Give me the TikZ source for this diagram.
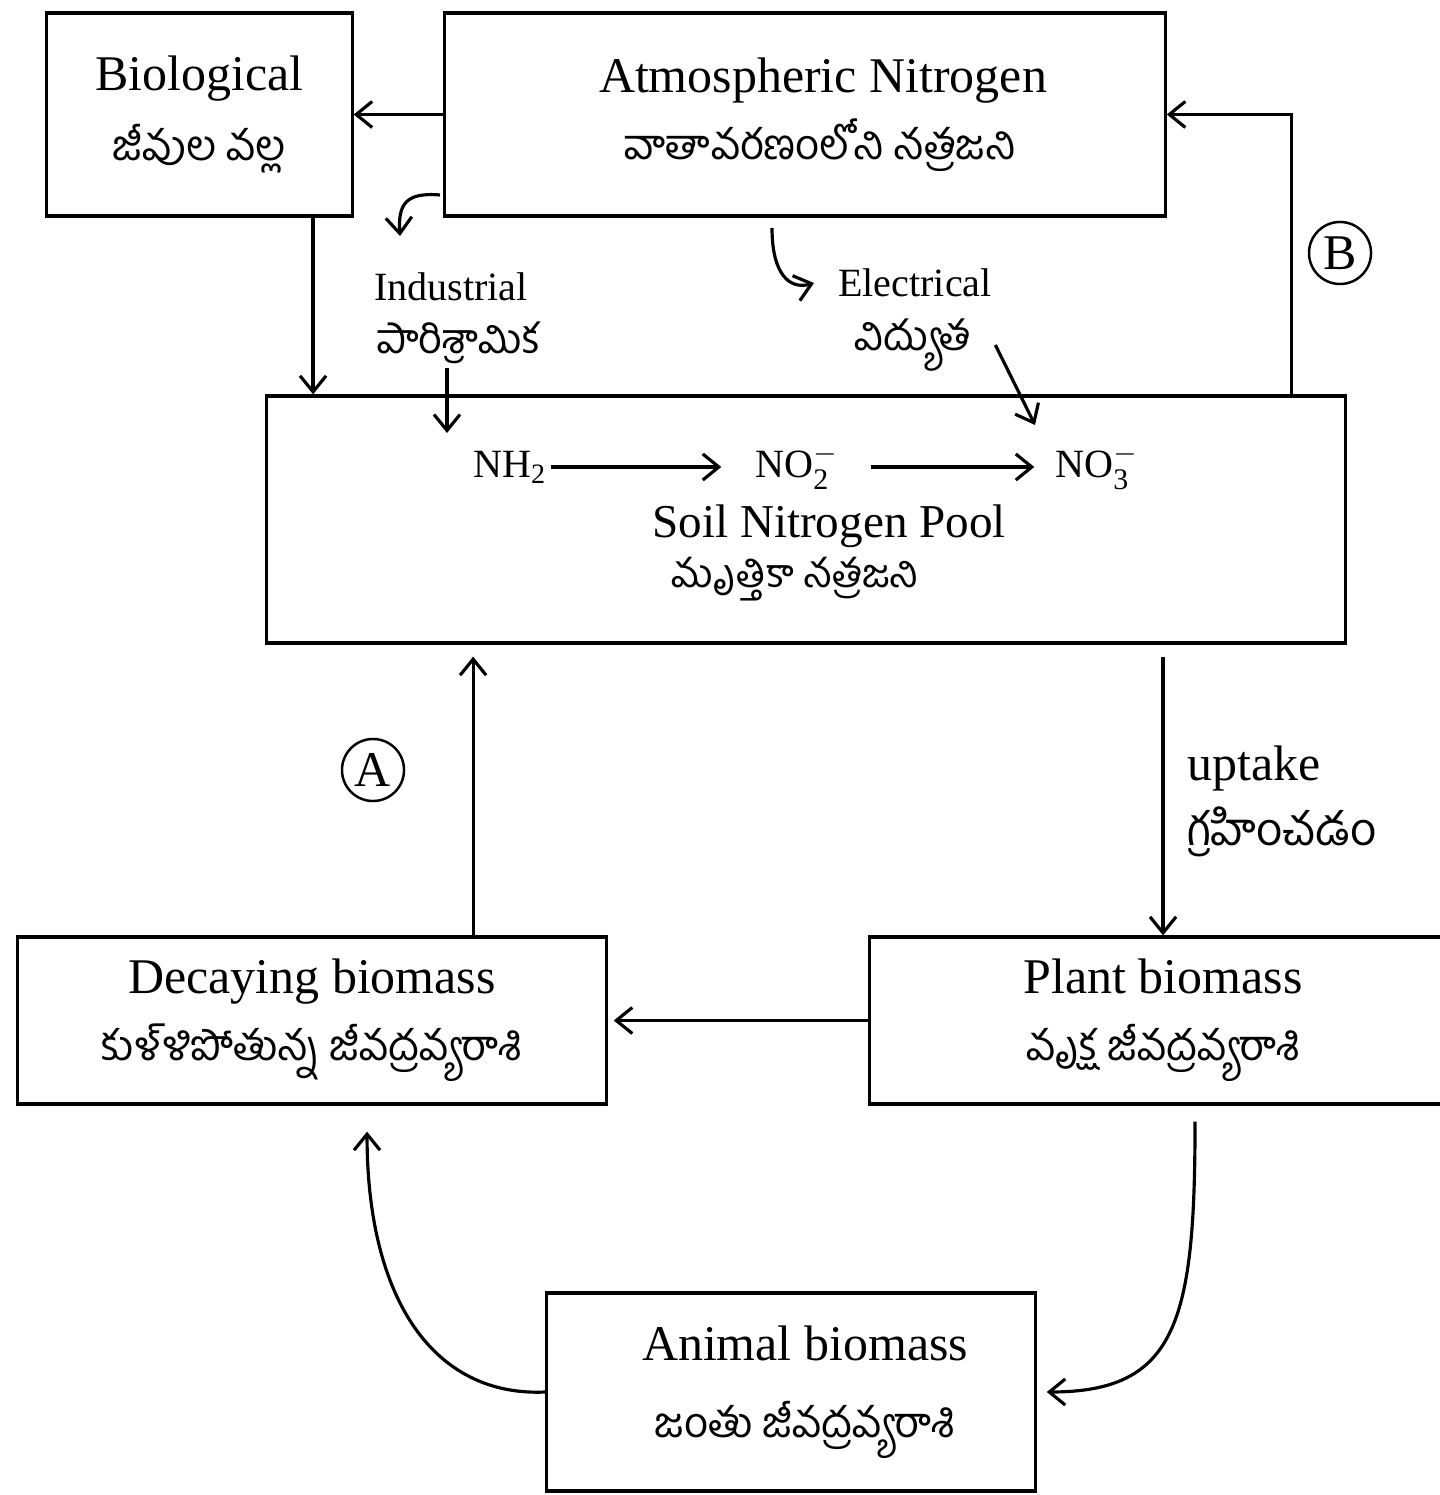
\documentclass[tikz,border=0pt]{standalone}
\usepackage{fontspec}
\setmainfont{Liberation Serif}
\newfontfamily\te[Script=Telugu,Scale=0.84]{Hind Guntur}
\newcommand\telu[1]{{\te #1}}
\newcommand\ion[1]{NO$^{-}_{\hbox{\fontsize{8.5}{9}\selectfont #1}}$}
\usetikzlibrary{arrows.meta}

\begin{document}
\begin{tikzpicture}[
    x=0.01cm, y=-0.01cm,
    box/.style={draw, line width=0.9pt, align=center, font=\fontsize{14.2}{19}\selectfont},
    arr/.style={line width=0.9pt, -{Straight Barb[length=1.6mm,width=2.6mm]}},
    small/.style={font=\fontsize{11.4}{14}\selectfont, inner sep=1pt},
    smallte/.style={font=\fontsize{14}{16}\selectfont, inner sep=1pt},
    big/.style={font=\fontsize{14.2}{17}\selectfont, inner sep=1pt},
    circ/.style={draw, circle, line width=0.7pt, minimum size=0.62cm, inner sep=0pt,
      font=\fontsize{14.2}{16}\selectfont}]
  \useasboundingbox (0,0) rectangle (1439,1495);

  \node[box, minimum width=3.05cm, minimum height=2.03cm] (bio) at (199.5,114.5)
    {Biological\\[1pt]\telu{జీవుల వల్ల}};
  \node[box, minimum width=7.2cm, minimum height=2.03cm] (atm) at (805,114.5)
    {\hspace*{0.36cm}Atmospheric Nitrogen\\\hspace*{0.3cm}\telu{వాతావరణంలోని నత్రజని}};
  \node[box, minimum width=10.78cm, minimum height=2.47cm] (soil) at (806,519.5) {};
  \node[align=center, font=\fontsize{13.4}{14}\selectfont] (soiltxt) at (795,553)
    {\hspace*{0.68cm}Soil Nitrogen Pool\\\telu{మృత్తికా నత్రజని}};
  \node[box, minimum width=5.88cm, minimum height=1.67cm] (decay) at (312,1020.5)
    {Decaying biomass\\[0pt]\telu{కుళ్ళిపోతున్న జీవద్రవ్యరాశి}};
  \node[box, minimum width=5.86cm, minimum height=1.67cm] (plant) at (1163,1020.5)
    {Plant biomass\\[0pt]\telu{వృక్ష జీవద్రవ్యరాశి}};
  \node[box, minimum width=4.88cm, minimum height=1.98cm] (animal) at (791,1392)
    {\hspace*{0.28cm}Animal biomass\\[3pt]\hspace*{0.28cm}\telu{జంతు జీవద్రవ్యరాశి}};

  \node[small] (ind) at (451,287) {Industrial};
  \node[smallte] (indte) at (458,343) {\telu{పారిశ్రామిక}};
  \node[small] (elec) at (915,283) {Electrical};
  \node[smallte] (electe) at (913,345) {\telu{విద్యుత}};
  \node[small] (nh) at (510,467) {NH\textsubscript{2}};
  \node[small] (no2) at (797,467) {\ion{2}};
  \node[small] (no3) at (1097,467) {\ion{3}};
  \node[big, anchor=west] (up) at (1183,768) {uptake};
  \node[big, anchor=west] (upte) at (1183,832) {\fontsize{15.5}{17}\selectfont\telu{గ్రహించడం}};
  \node[circ] (lblA) at (373,770) {A};
  \node[circ] (lblB) at (1340,253) {B};

  \coordinate (indfrom) at (440,195);
  \coordinate (indto) at (400,236);
  \coordinate (indin) at (447,433);
  \coordinate (elfrom) at (772,228);
  \coordinate (elin) at (1035,425);

  \draw[arr] (atm.west) -- (bio.east);
  \draw[arr] ([xshift=1.135cm]bio.south) -- ([xshift=1.135cm]bio.south |- soil.north);
  \draw[arr] (indfrom) .. controls (405,192) and (398,205) .. (indto);
  \draw[arr] (indte.south -| indin) -- (indin);
  \draw[arr] (elfrom) .. controls (772,275) and (790,290) .. ([xshift=-0.2cm]elec.west);
  \draw[arr] ([xshift=0.2cm]electe.east) -- (elin);
  \draw[arr, shorten >=0.3cm] (nh) -- (no2);
  \draw[arr, shorten <=0.28cm, shorten >=0.17cm] (no2) -- (no3);
  \draw[arr] ([xshift=-0.55cm]soil.north east) |- (atm.east);
  \draw[arr] ([yshift=-0.12cm]soil.south -| plant.north) -- (plant.north);
  \draw[arr] ([xshift=1.61cm]decay.north) -- ([xshift=1.61cm,yshift=-0.12cm]decay.north |- soil.south);
  \draw[arr, shorten >=0.06cm] (plant.west) -- (decay.east);
  \draw[arr] ([xshift=0.32cm,yshift=-0.16cm]plant.south) .. controls +(0,200) and +(130,0)
    .. ([xshift=0.1cm]animal.east);
  \draw[arr] (animal.west) .. controls +(-110,5) and +(0,170)
    .. ([xshift=0.55cm,yshift=-0.26cm]decay.south);
\end{tikzpicture}
\end{document}
